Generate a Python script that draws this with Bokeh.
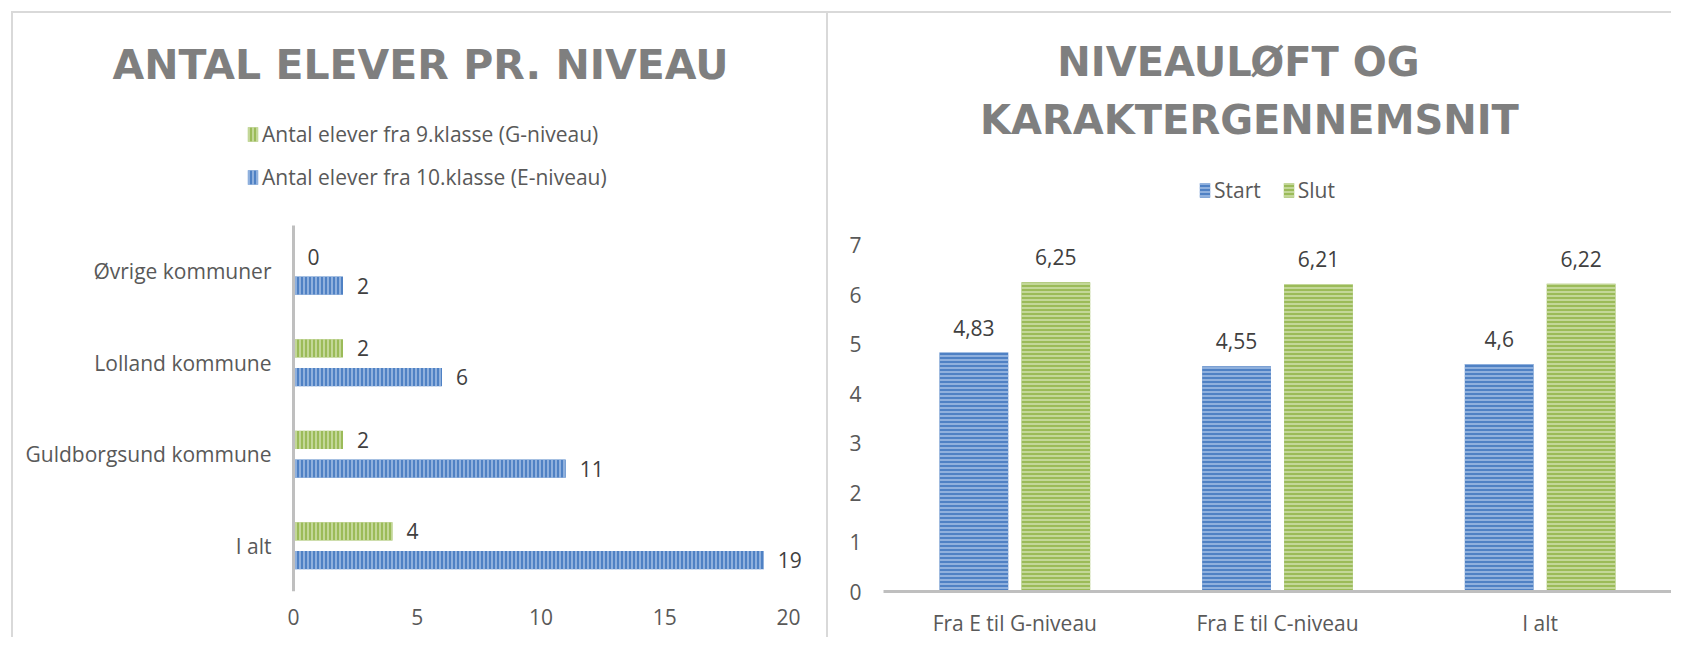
from bokeh.plotting import figure
from bokeh.models import (ColumnDataSource, FactorRange, Range1d, FixedTicker,
                          Legend, LegendItem, Label)
from bokeh.transform import dodge
from bokeh.layouts import row
from bokeh.embed import file_html
from bokeh.resources import INLINE
from bokeh.core.properties import value

# ---------------- data ----------------
kommuner = ["I alt", "Guldborgsund kommune", "Lolland kommune", "Øvrige kommuner"]
elever_g = [4, 2, 2, 0]      # Antal elever fra 9.klasse (G-niveau)
elever_e = [19, 11, 6, 2]    # Antal elever fra 10.klasse (E-niveau)
left_ticks = [0, 5, 10, 15, 20]

niveauer = ["Fra E til G-niveau", "Fra E til C-niveau", "I alt"]
start = [4.83, 4.55, 4.6]
slut = [6.25, 6.21, 6.22]
right_ticks = [0, 1, 2, 3, 4, 5, 6, 7]

# ---------------- style ----------------
BLUE, BLUE_H = "#4f81c4", "#a4c0e6"
GREEN, GREEN_H = "#9bbb59", "#d0e1ae"
FONT = "Open Sans"
TFONT = "DejaVu Sans"
TICK_C = "#595959"
LAB_C = "#404040"
TITLE_C = "#7f7f7f"
BORDER = "2px solid #d9d9d9"
BAR_V = dict(line_color=None, hatch_pattern="vertical_line", hatch_scale=4,
             hatch_weight=1.5)
BAR_H = dict(line_color=None, hatch_pattern="horizontal_line", hatch_scale=4,
             hatch_weight=1.5)
MB_TOP, MB_BOTTOM = 29, 47


def fmt(v):
    return str(v).replace(".", ",")


def style_axis(ax, standoff):
    ax.major_tick_line_color = None
    ax.minor_tick_line_color = None
    ax.major_tick_out = 0
    ax.major_tick_in = 0
    ax.minor_tick_out = 0
    ax.major_label_standoff = standoff
    ax.major_label_text_font = FONT
    ax.major_label_text_font_size = "21px"
    ax.major_label_text_color = TICK_C


def title_label(text, x, y, size):
    return Label(x=x, y=y, x_units="screen", y_units="screen", text=text,
                 text_align="center", text_baseline="middle",
                 text_font=TFONT, text_font_size=size, text_font_style="bold",
                 text_color=TITLE_C)


def make_legend(items, loc, orientation, spacing):
    return Legend(items=items, location=loc, orientation=orientation,
                  border_line_color=None, background_fill_alpha=0,
                  label_text_font=FONT, label_text_font_size="21px",
                  label_text_color=TICK_C, glyph_width=13, glyph_height=18,
                  label_height=29, label_standoff=3, spacing=spacing,
                  padding=0, margin=0)


# ---------------- left chart ----------------
# two empty factors on top leave room for the title and the legend
src_l = ColumnDataSource(dict(k=kommuner, g=elever_g, e=elever_e,
                              gl=[fmt(v) for v in elever_g],
                              el=[fmt(v) for v in elever_e]))
p1 = figure(width=817, height=626, y_range=FactorRange(factors=kommuner + [" ", "  "]),
            x_range=Range1d(-11.313, 21.293), output_backend="svg",
            toolbar_location=None, min_border_left=0, min_border_right=10,
            min_border_top=MB_TOP, min_border_bottom=MB_BOTTOM, outline_line_color=None,
            margin=(11, 0, 0, 11),
            styles={"border-left": BORDER, "border-top": BORDER, "border-right": BORDER})

yg = dodge("k", 0.157, range=p1.y_range)
ye = dodge("k", -0.157, range=p1.y_range)
rg = p1.hbar(y=yg, right="g", left=0, height=0.198, source=src_l, fill_color=GREEN,
             hatch_color=GREEN_H, **BAR_V)
rb = p1.hbar(y=ye, right="e", left=0, height=0.198, source=src_l, fill_color=BLUE,
             hatch_color=BLUE_H, **BAR_V)
for yy, col in ((yg, "g"), (ye, "e")):
    p1.text(x=col, y=yy, text=col + "l", source=src_l, x_offset=14,
            text_align="left", text_baseline="middle", text_font=value(FONT),
            text_font_size="21px", text_color=LAB_C)

p1.xaxis.ticker = FixedTicker(ticks=left_ticks)
p1.xaxis.axis_line_color = None
style_axis(p1.xaxis, 17)
p1.yaxis.fixed_location = 0
p1.yaxis.bounds = (0, len(kommuner))
p1.yaxis.axis_line_color = "#bfbfbf"
p1.yaxis.axis_line_width = 3
style_axis(p1.yaxis, 22)
p1.xgrid.visible = False
p1.ygrid.visible = False

p1.add_layout(title_label("ANTAL ELEVER PR. NIVEAU", 407, 527, "41px"))
p1.add_layout(make_legend(
    [LegendItem(label="Antal elever fra 9.klasse (G-niveau)", renderers=[rg]),
     LegendItem(label="Antal elever fra 10.klasse (E-niveau)", renderers=[rb])],
    (233, 400), "vertical", 14))

# ---------------- right chart ----------------
src_r = ColumnDataSource(dict(n=niveauer, s=start, t=slut,
                              sl=[fmt(v) for v in start], tl=[fmt(v) for v in slut]))
p2 = figure(width=843, height=626, x_range=FactorRange(factors=niveauer),
            y_range=Range1d(0, 11.095), output_backend="svg", toolbar_location=None,
            min_border_left=55, min_border_right=0, min_border_top=MB_TOP,
            min_border_bottom=MB_BOTTOM, outline_line_color=None,
            margin=(11, 0, 0, 0), styles={"border-top": BORDER})

xs = dodge("n", -0.156, range=p2.x_range)
xt = dodge("n", 0.156, range=p2.x_range)
rs = p2.vbar(x=xs, top="s", width=0.262, source=src_r, fill_color=BLUE,
             hatch_color=BLUE_H, **BAR_H)
rt = p2.vbar(x=xt, top="t", width=0.262, source=src_r, fill_color=GREEN,
             hatch_color=GREEN_H, **BAR_H)
for xx, col in ((xs, "s"), (xt, "t")):
    p2.text(x=xx, y=col, text=col + "l", source=src_r, y_offset=-25,
            text_align="center", text_baseline="middle", text_font=value(FONT),
            text_font_size="21px", text_color=LAB_C)

p2.yaxis.ticker = FixedTicker(ticks=right_ticks)
p2.yaxis.axis_line_color = None
style_axis(p2.yaxis, 22)
p2.xaxis.axis_line_color = "#bfbfbf"
p2.xaxis.axis_line_width = 3
style_axis(p2.xaxis, 17)
p2.xgrid.visible = False
p2.ygrid.visible = False

p2.add_layout(title_label("NIVEAULØFT OG", 355, 530, "40px"))
p2.add_layout(title_label("KARAKTERGENNEMSNIT", 366, 472, "40px"))
p2.add_layout(make_legend([LegendItem(label="Start", renderers=[rs]),
                           LegendItem(label="Slut", renderers=[rt])],
                          (315, 387), "horizontal", 21))

layout = row(p1, p2, spacing=0)
open("out.html", "w").write(file_html(layout, INLINE))
